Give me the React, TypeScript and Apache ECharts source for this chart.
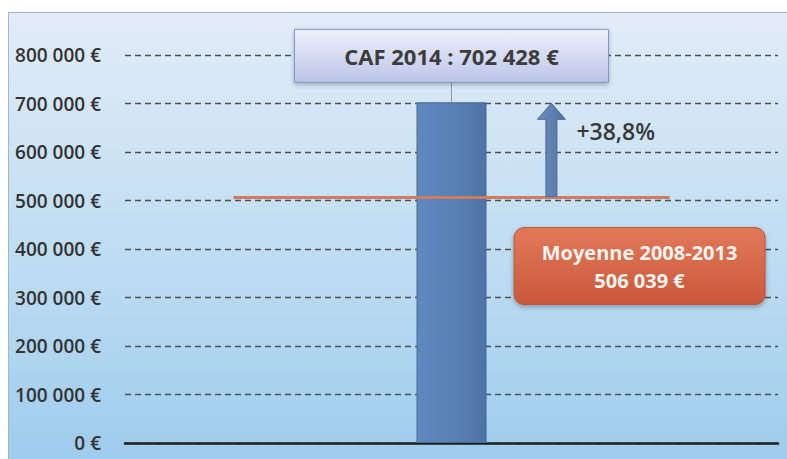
import React, { useEffect, useRef } from "react";
import * as echarts from "echarts";

const categories = ["2014"];
const cafValues = [702428];
const averageValue = 506039;
const averageSpan = [0.166, 0.834];
const yTicks = [0, 100000, 200000, 300000, 400000, 500000, 600000, 700000, 800000];
const cafLabel = "CAF 2014 : 702 428 €";
const averageLabel = ["Moyenne 2008-2013", "506 039 €"];
const growthLabel = "+38,8%";
const arrowPos = 0.653;
const avgBoxPos = 0.788;

const FONT = "'Open Sans', 'Liberation Sans', sans-serif";

function fmt(v: number) {
  if (v === 0) return "0 €";
  return v / 1000 + " 000 €";
}

export default function App() {
  const ref = useRef<HTMLDivElement>(null);
  useEffect(() => {
    document.body.style.margin = "0";
    const chart = echarts.init(ref.current!, null, { renderer: "svg" });
    chart.setOption({
      animation: false,
      grid: { left: 125, right: 9, top: 55, bottom: 16 },
      xAxis: [
        {
          type: "category",
          data: categories,
          axisLine: { show: true, lineStyle: { color: "#1e1e1e", width: 2.5 } },
          axisTick: { show: false },
          axisLabel: { show: false },
          splitLine: { show: false },
        },
        { type: "value", min: 0, max: 1, show: false },
      ],
      yAxis: {
        type: "value",
        min: yTicks[0],
        max: yTicks[yTicks.length - 1],
        interval: 100000,
        axisLine: { show: false },
        axisTick: { show: false },
        axisLabel: {
          formatter: fmt,
          margin: 24,
          fontSize: 19,
          fontWeight: 600,
          fontFamily: FONT,
          color: "#333",
        },
        splitLine: { lineStyle: { color: "#4f4f4f", width: 1.4, type: [6, 4] } },
      },
      series: [
        {
          type: "bar",
          data: cafValues,
          barWidth: 70,
          itemStyle: {
            color: new echarts.graphic.LinearGradient(0, 0, 1, 0, [
              { offset: 0, color: "#5f88bf" },
              { offset: 0.5, color: "#5a81b6" },
              { offset: 1, color: "#4e73a6" },
            ]),
            borderColor: "#46699a",
            borderWidth: 1,
          },
          z: 2,
        },
        {
          type: "line",
          xAxisIndex: 1,
          data: [
            [averageSpan[0], averageValue],
            [averageSpan[1], averageValue],
          ],
          symbol: "none",
          lineStyle: { color: "#d17c5f", width: 3 },
          z: 3,
        },
        {
          type: "custom",
          xAxisIndex: 1,
          clip: false,
          z: 4,
          data: [[arrowPos, averageValue, cafValues[0]]],
          renderItem: (params: any, api: any) => {
            const pb = api.coord([api.value(0), api.value(1)]);
            const pt = api.coord([api.value(0), api.value(2)]);
            const cx = pb[0];
            const sw = 5.5, hw = 14, hh = 16;
            const ty = pt[1] + 1;
            return {
              type: "polygon",
              shape: {
                points: [
                  [cx - sw, pb[1] - 1],
                  [cx - sw, ty + hh],
                  [cx - hw, ty + hh],
                  [cx, ty],
                  [cx + hw, ty + hh],
                  [cx + sw, ty + hh],
                  [cx + sw, pb[1] - 1],
                ],
              },
              style: {
                fill: new echarts.graphic.LinearGradient(0, 0, 1, 0, [
                  { offset: 0, color: "#6e8fbf" },
                  { offset: 1, color: "#52729f" },
                ]),
                stroke: "#4b6a96",
                lineWidth: 1,
              },
            };
          },
        },
        {
          type: "custom",
          xAxisIndex: 1,
          clip: false,
          z: 5,
          data: [[arrowPos, (averageValue + cafValues[0]) / 2 + 40000]],
          renderItem: (params: any, api: any) => {
            const p = api.coord([api.value(0), api.value(1)]);
            return {
              type: "text",
              style: {
                text: growthLabel,
                x: p[0] + 25,
                y: p[1],
                align: "left",
                verticalAlign: "middle",
                fontSize: 23,
                fontWeight: 600,
                fontFamily: FONT,
                fill: "#383838",
              },
            };
          },
        },
        {
          type: "custom",
          xAxisIndex: 1,
          clip: false,
          z: 6,
          data: [[0.5, cafValues[0]]],
          renderItem: (params: any, api: any) => {
            const p = api.coord([api.value(0), api.value(1)]);
            const cx = p[0];
            const w = 314, h = 53;
            const bottom = p[1] - 20;
            const top = bottom - h;
            return {
              type: "group",
              children: [
                {
                  type: "line",
                  shape: { x1: cx, y1: p[1], x2: cx, y2: bottom },
                  style: { stroke: "#8a9ab0", lineWidth: 1 },
                },
                {
                  type: "rect",
                  shape: { x: cx - w / 2, y: top, width: w, height: h },
                  style: {
                    fill: new echarts.graphic.LinearGradient(0, 0, 0, 1, [
                      { offset: 0, color: "#eef0fb" },
                      { offset: 1, color: "#bcc5e8" },
                    ]),
                    stroke: "#8595c4",
                    lineWidth: 1,
                    shadowBlur: 4,
                    shadowOffsetY: 2,
                    shadowColor: "rgba(0,0,0,0.25)",
                  },
                },
                {
                  type: "text",
                  style: {
                    text: cafLabel,
                    x: cx,
                    y: top + h / 2,
                    align: "center",
                    verticalAlign: "middle",
                    fontSize: 22,
                    fontWeight: 700,
                    fontFamily: FONT,
                    fill: "#3c3c3c",
                  },
                },
              ],
            };
          },
        },
        {
          type: "custom",
          xAxisIndex: 1,
          clip: false,
          z: 6,
          data: [[avgBoxPos, averageValue]],
          renderItem: (params: any, api: any) => {
            const p = api.coord([api.value(0), api.value(1)]);
            const cx = p[0];
            const w = 251, h = 77;
            const top = p[1] + 30;
            return {
              type: "group",
              children: [
                {
                  type: "rect",
                  shape: { x: cx - w / 2, y: top, width: w, height: h, r: 10 },
                  style: {
                    fill: new echarts.graphic.LinearGradient(0, 0, 0, 1, [
                      { offset: 0, color: "#e2795a" },
                      { offset: 1, color: "#c9583a" },
                    ]),
                    stroke: "#b95539",
                    lineWidth: 1,
                    shadowBlur: 5,
                    shadowOffsetY: 2,
                    shadowColor: "rgba(0,0,0,0.3)",
                  },
                },
                {
                  type: "text",
                  style: {
                    text: averageLabel[0],
                    x: cx,
                    y: top + 25,
                    align: "center",
                    verticalAlign: "middle",
                    fontSize: 20,
                    fontWeight: 700,
                    fontFamily: FONT,
                    fill: "#fdf3ef",
                  },
                },
                {
                  type: "text",
                  style: {
                    text: averageLabel[1],
                    x: cx,
                    y: top + 53,
                    align: "center",
                    verticalAlign: "middle",
                    fontSize: 20,
                    fontWeight: 700,
                    fontFamily: FONT,
                    fill: "#fdf3ef",
                  },
                },
              ],
            };
          },
        },
      ],
    });
    return () => chart.dispose();
  }, []);

  return (
    <div style={{ position: "relative", width: 787, height: 459, background: "#fff", overflow: "hidden" }}>
      <div
        style={{
          position: "absolute",
          left: 8,
          top: 12,
          width: 790,
          height: 460,
          border: "1px solid #9fb7cc",
          background: "linear-gradient(#e2ecf7, #bddcf2 55%, #9ccbed)",
        }}
      />
      <div ref={ref} style={{ position: "absolute", left: 0, top: 0, width: 787, height: 459 }} />
    </div>
  );
}
